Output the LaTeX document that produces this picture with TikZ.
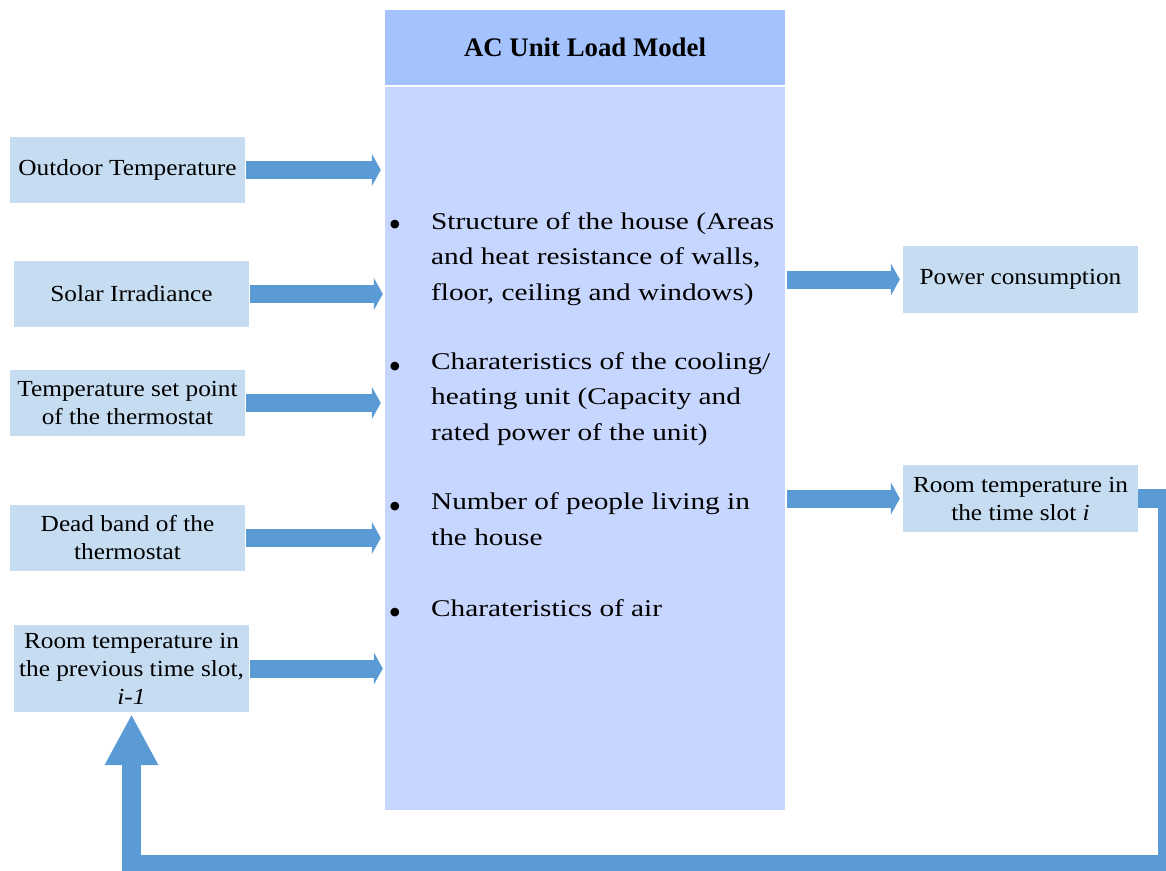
\documentclass[tikz,border=0pt]{standalone}
\usepackage{fontspec}
\setmainfont{Liberation Serif}
\newfontfamily\boxfont{Liberation Serif}[FakeStretch=1.1]
\newfontfamily\listfont{Liberation Serif}[FakeStretch=1.22]
\usetikzlibrary{arrows.meta}
\definecolor{hdrblue}{HTML}{A4C2FE}
\definecolor{bodyblue}{HTML}{C7D6FE}
\definecolor{boxblue}{HTML}{C5DCF1}
\definecolor{arrblue}{HTML}{5B9BD5}
\begin{document}
\begin{tikzpicture}[x=1pt,y=-1pt,
  inbox/.style={fill=boxblue, draw=none, minimum width=235pt, minimum height=66pt,
    inner sep=0pt, align=center, font=\boxfont\fontsize{23}{28}\selectfont},
  blockarrow/.style={draw=arrblue, line width=18pt,
    -{Triangle[width=32pt,length=9pt]}, shorten <=1pt},
  fb/.style={draw=arrblue, line width=19pt, line join=miter,
    -{Triangle[width=50pt,length=51pt]}, shorten >=2pt},
  itemtext/.style={anchor=base west, inner sep=0pt, align=left,
    font=\listfont\fontsize{24}{35.5}\selectfont},
  bul/.style={anchor=center, inner sep=0pt, font=\fontsize{36}{36}\selectfont}
]
\useasboundingbox (0,0) rectangle (1166,870);
% main model box
\node[fill=hdrblue, minimum width=400pt, minimum height=75pt, inner sep=0pt,
  font=\bfseries\fontsize{26.8}{30}\selectfont] (hdr) at (585,47.5) {AC Unit Load Model};
\node[fill=bodyblue, minimum width=400pt, minimum height=723pt, inner sep=0pt] (body) at (585,448.5) {};
% bullets (text nodes anchored on the baseline of their last line)
\node[bul] (b1) at (395,228) {\textbullet};
\node[itemtext] (i1) at (431,300) {Structure of the house (Areas\\and heat resistance of walls,\\floor, ceiling and windows)};
\node[bul] (b2) at (395,370) {\textbullet};
\node[itemtext] (i2) at (431,440) {Charateristics of the cooling/\\heating unit (Capacity and\\rated power of the unit)};
\node[bul] (b3) at (395,510) {\textbullet};
\node[itemtext] (i3) at (431,545) {Number of people living in\\the house};
\node[bul] (b4) at (395,616) {\textbullet};
\node[itemtext] (i4) at (431,616) {Charateristics of air};
% inputs
\node[inbox] (out) at (127.5,170) {Outdoor Temperature};
\node[inbox] (sol) at (131.5,294) {Solar Irradiance};
\node[inbox] (setp) at (127.5,403) {Temperature set point\\of the thermostat};
\node[inbox] (dead) at (127.5,538) {Dead band of the\\thermostat};
\node[inbox, minimum height=87pt] (prev) at (131.5,668.5) {Room temperature in\\the previous time slot,\\\textit{i-1}};
% outputs
\node[inbox, minimum height=67pt] (pow) at (1020.5,279.5) {Power consumption};
\node[inbox, minimum height=67pt] (roomi) at (1020.5,498.5) {Room temperature in\\the time slot \textit{i}};
% arrows in
\draw[blockarrow, shorten >=4pt] (out.east) -- (out.east -| body.west);
\draw[blockarrow, shorten >=2pt] (sol.east) -- (sol.east -| body.west);
\draw[blockarrow, shorten >=4pt] (setp.east) -- (setp.east -| body.west);
\draw[blockarrow, shorten >=4pt] (dead.east) -- (dead.east -| body.west);
\draw[blockarrow, shorten >=2pt] (prev.east) -- (prev.east -| body.west);
% arrows out
\draw[blockarrow, shorten <=2pt, shorten >=3pt] (body.east |- pow.west) -- (pow.west);
\draw[blockarrow, shorten <=2pt, shorten >=3pt] (body.east |- roomi.west) -- (roomi.west);
% feedback loop
\coordinate (fbr) at (1167.5,864.5);
\coordinate (fbl) at (131.5,864.5);
\draw[fb] (roomi.east) -| (fbr) -- (fbl) -- (prev.south);
\end{tikzpicture}
\end{document}
